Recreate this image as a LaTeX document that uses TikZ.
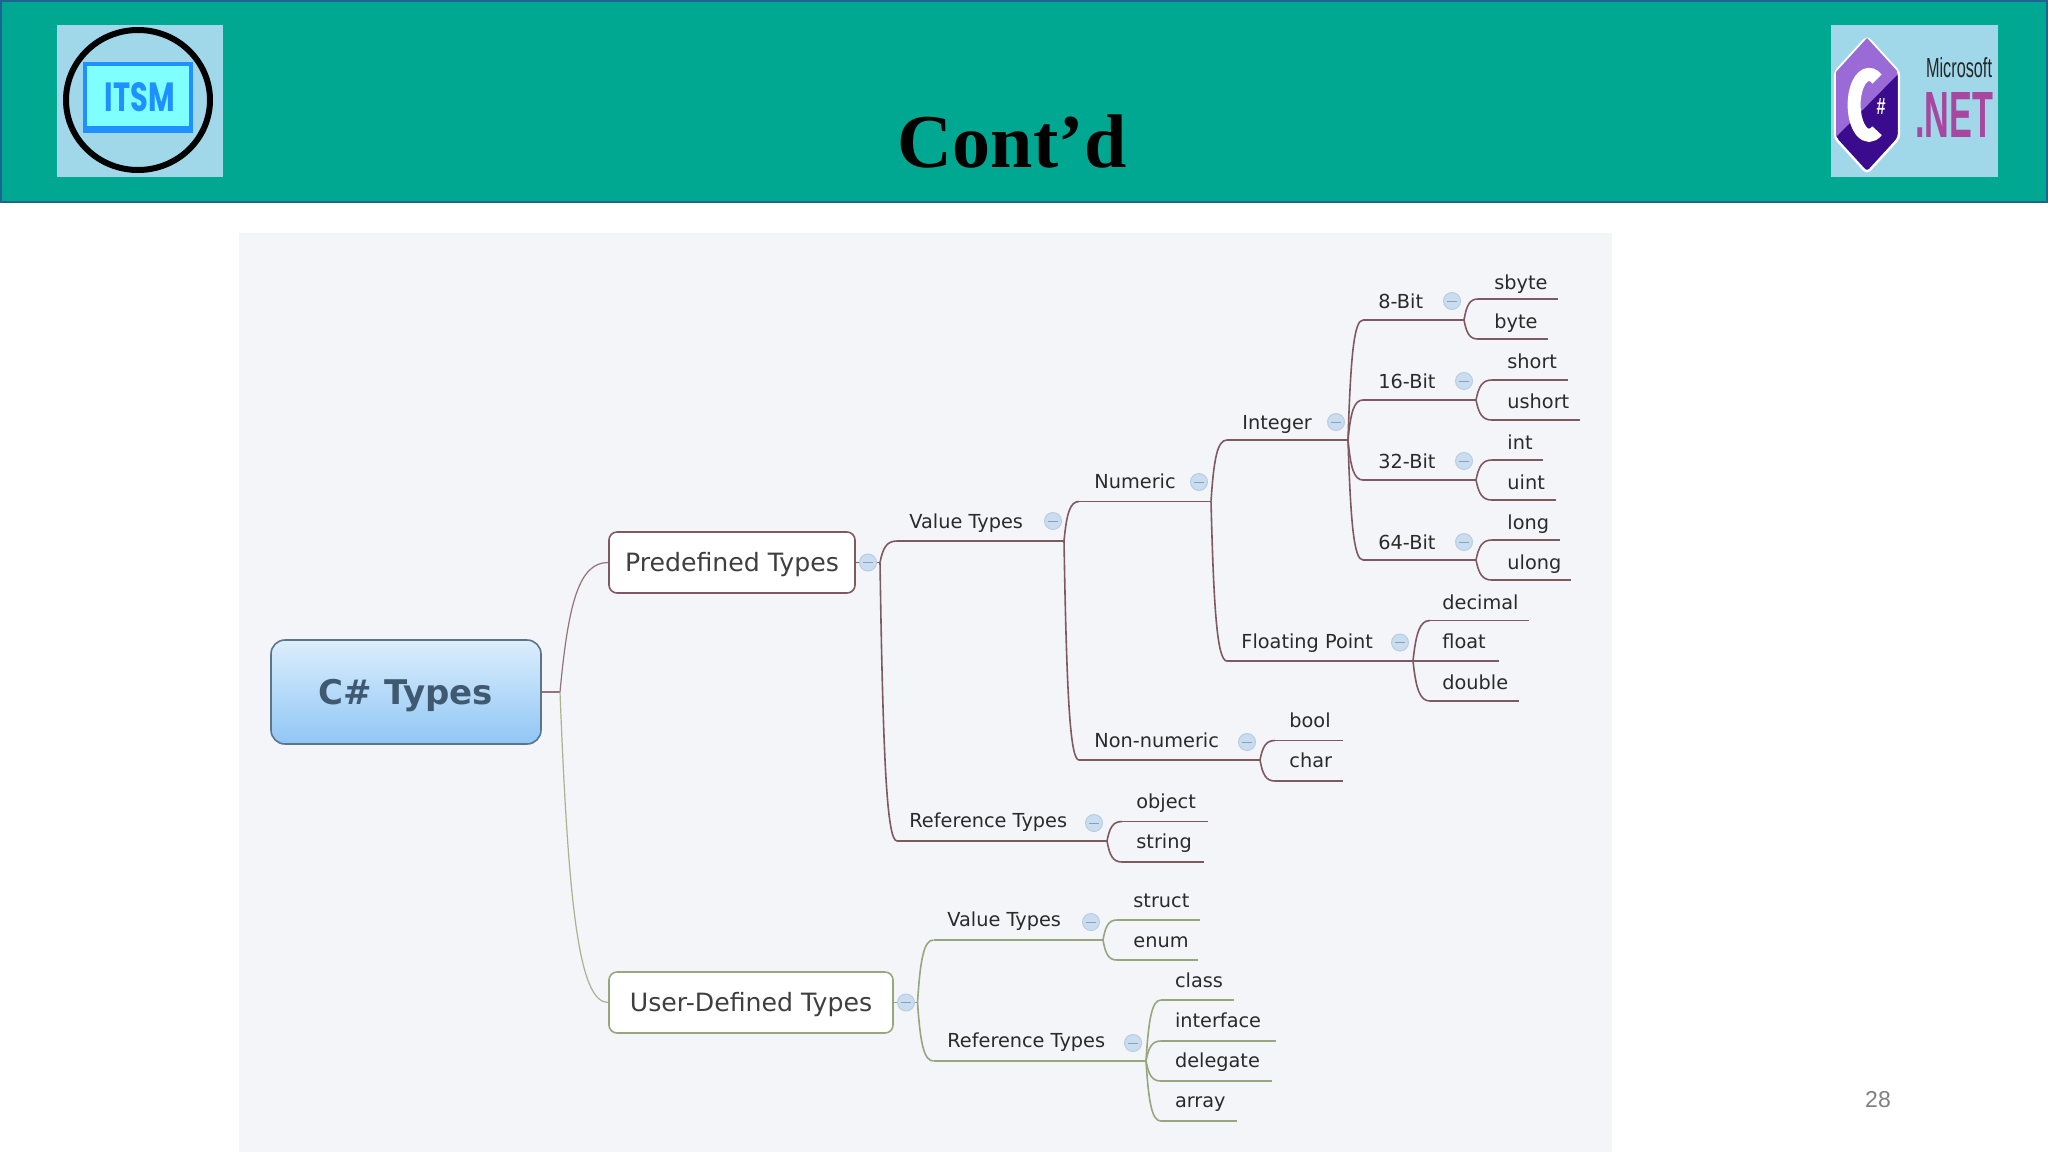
\documentclass[tikz,border=0pt]{standalone}
\usepackage{fontspec}
\usepackage{graphicx}
\usetikzlibrary{calc}
\setmainfont{Liberation Sans}
\newfontfamily\titlefont[LetterSpace=0.5]{Liberation Serif}
\newfontfamily\mapfont{DejaVu Sans}
\newfontfamily\heavyfont{Poppins}
\definecolor{teal0}{HTML}{00A892}
\definecolor{edgeblue}{HTML}{1F6391}
\definecolor{logosky}{HTML}{A0D8EA}
\definecolor{panel}{HTML}{F3F5F9}
\definecolor{upperc}{HTML}{7E5A60}
\definecolor{lowerc}{HTML}{98A67E}
\definecolor{knobfill}{HTML}{CADDF0}
\definecolor{knobedge}{HTML}{BACDE0}
\definecolor{knobdash}{HTML}{8AA0B8}
\definecolor{inktext}{HTML}{2A2A2A}
\definecolor{itsmblue}{HTML}{1E90FF}
\definecolor{itsmcyan}{HTML}{80FFFF}
\definecolor{hexlight}{HTML}{9A6AD6}
\definecolor{hexdark}{HTML}{3A0B8C}
\definecolor{netpurple}{HTML}{A8479F}
\definecolor{rootedge}{HTML}{5E7488}
\definecolor{roottext}{HTML}{3F5A70}
\definecolor{roottop}{HTML}{DCEEFC}
\definecolor{rootbot}{HTML}{90C6F5}
\tikzset{
  upline/.style={draw=upperc,line width=0.8pt},
  lowline/.style={draw=lowerc,line width=0.8pt},
  uptrunk/.style={draw=upperc!85!white,line width=0.6pt},
  lowtrunk/.style={draw=lowerc!85!white,line width=0.6pt},
  lbl/.style={anchor=west,inner sep=0pt,text height=8pt,text depth=1pt,font=\mapfont\fontsize{9.65}{10}\selectfont,text=inktext},
  knob/.style={circle,fill=knobfill,draw=knobedge,line width=0.5pt,minimum size=8.5pt,inner sep=0pt},
  knobbar/.style={draw=knobdash,line width=0.5pt},
  topicbox/.style={draw,rounded corners=4pt,fill=white,inner sep=0pt,line width=0.8pt,minimum height=30.5pt,
     text height=10.5pt,text depth=1.5pt,font=\mapfont\fontsize{12.6}{14}\selectfont,text=inktext!90}
}
\newcommand{\Tie}[3]{\draw[#1] (#2) .. controls ($(#2)!.7!($(#2|-#3)!.25!(#3)$)$) and ($(#3)!.6!(#2|-#3)$) .. (#3);}
% style, parent, id, startx, liney, endx, textx, texty, text
\newcommand{\Item}[9]{%
  \coordinate (#3-a) at (#4,#5);
  \coordinate (#3-b) at (#6,#5);
  \Tie{#1}{#2}{#3-a}
  \draw[#1] (#3-a) -- (#3-b);
  \node[lbl] (#3) at (#7,#8) {#9};
}
\newcommand{\Knob}[3]{%
  \node[knob] (#1) at (#2,#3) {};
  \draw[knobbar] ($(#1.center)+(-5,0)$) -- ($(#1.center)+(5,0)$);
}
\begin{document}
\begin{tikzpicture}[x=0.5pt,y=-0.5pt]
\useasboundingbox (0,0) rectangle (2048,1152);
\fill[white] (0,0) rectangle (2048,1152);
% header
\fill[teal0,draw=edgeblue,line width=1pt] (1,1) rectangle (2047,201.5);
\node[anchor=base,inner sep=0pt,font=\titlefont\bfseries\fontsize{38}{40}\selectfont,text=black] (title) at (1012,167) {Cont’d};
% left logo
\fill[logosky] (57,25) rectangle (223,177);
\draw[black,line width=3pt] (138,100) ellipse (72 and 70);
\fill[itsmblue] (83,62) rectangle (193,133);
\fill[itsmcyan] (87,66) rectangle (189,126);
\node[inner sep=0pt,text=itsmblue] (itsm) at (140,97.5) {\resizebox{35pt}{14.5pt}{\heavyfont\bfseries ITSM}};
% right logo
\fill[logosky] (1831,25) rectangle (1998,177);
\path[fill=hexdark,draw=white,line width=1.2pt,rounded corners=2pt] (1867,37) -- (1899,72) -- (1899,138) -- (1867,173) -- (1835,138) -- (1835,72) -- cycle;
\begin{scope}
\clip (1867,38) -- (1898,72) -- (1898,138) -- (1867,172) -- (1836,138) -- (1836,72) -- cycle;
\fill[hexlight] (1836,137) -- (1897,75) -- (1897,30) -- (1830,30) -- (1830,137) -- cycle;
\end{scope}
\draw[white,line width=6.5pt] (1877,79) arc[start angle=-58,end angle=-302,x radius=15,y radius=30.5];
\node[inner sep=0pt,text=white] (sharp) at (1881,106) {\resizebox{4.5pt}{8pt}{\bfseries\#}};
\node[inner sep=0pt,text=black!85] (msft) at (1959,68) {\resizebox{33pt}{10pt}{Microsoft}};
\node[inner sep=0pt,text=netpurple] (dotnet) at (1954,114.5) {\resizebox{39pt}{22.5pt}{\bfseries .NET}};
% panel
\fill[panel] (239,233) rectangle (1612,1152);
% page number
\node[inner sep=0pt,text=black!50,font=\fontsize{11.5}{14}\selectfont] (pageno) at (1878,1100) {28};

% root and topics
\node[draw=rootedge,rounded corners=7pt,top color=roottop,bottom color=rootbot,inner sep=0pt,line width=0.8pt,
  minimum width=135pt,minimum height=52pt,text height=14pt,text depth=2pt,font=\mapfont\bfseries\fontsize{17}{19}\selectfont,text=roottext] (root) at (406,692) {C\# Types};
\node[topicbox,draw=upperc,minimum width=123pt] (pre) at (732,562.5) {Predefined Types};
\node[topicbox,draw=lowerc,minimum width=142pt] (usr) at (751,1002.5) {User-Defined Types};
\coordinate (tr) at (560,692);
\draw[draw=upperc!85!white,line width=0.8pt] (root.east) -- (tr);
\Tie{uptrunk}{tr}{pre.west}
\Tie{lowtrunk}{tr}{usr.west}
\coordinate (preb) at (880,562.5);
\draw[upline] (pre.east) -- (preb);
\coordinate (usrb) at (917.5,1002.5);
\draw[lowline] (usr.east) -- (usrb);
\Knob{k0}{868}{562.5}
\Knob{k00}{906}{1002.5}

% predefined
\Item{upline}{preb}{vt}{897}{541}{1064}{909}{521}{Value Types}
\Knob{k1}{1053}{521}
\Item{upline}{preb}{rt}{897}{841}{1107}{909}{820}{Reference Types}
\Knob{k2}{1094}{823}
\Item{upline}{rt-b}{obj}{1122}{821.5}{1208}{1136}{801}{object}
\Item{upline}{rt-b}{str}{1122}{862}{1204}{1136}{841}{string}
\Item{upline}{vt-b}{num}{1079}{501.5}{1211}{1094}{481}{Numeric}
\Knob{k3}{1199}{482}
\Item{upline}{vt-b}{nn}{1079}{760}{1260}{1094}{740}{Non-numeric}
\Knob{k4}{1247}{742}
\Item{upline}{nn-b}{bool}{1275}{740.5}{1343}{1289}{720}{bool}
\Item{upline}{nn-b}{chr}{1275}{781}{1343}{1289}{760}{char}
\Item{upline}{num-b}{int}{1227}{440}{1348}{1242}{422}{Integer}
\Knob{k5}{1336}{422}
\Item{upline}{num-b}{fp}{1227}{661}{1413}{1241}{641}{Floating Point}
\Knob{k6}{1400}{642.5}
\Item{upline}{fp-b}{dec}{1430}{620.5}{1529}{1442}{602}{decimal}
\Item{upline}{fp-b}{flt}{1413}{661}{1499}{1442}{641}{float}
\Item{upline}{fp-b}{dbl}{1430}{701}{1519}{1442}{682}{double}
\Item{upline}{int-b}{b8}{1363}{320}{1464}{1378}{301}{8-Bit}
\Knob{k7}{1452}{301}
\Item{upline}{int-b}{b16}{1363}{400}{1476}{1378}{381}{16-Bit}
\Knob{k8}{1464}{381}
\Item{upline}{int-b}{b32}{1363}{480}{1476}{1378}{461}{32-Bit}
\Knob{k9}{1464}{461}
\Item{upline}{int-b}{b64}{1363}{560}{1476}{1378}{542}{64-Bit}
\Knob{k10}{1464}{542}
\Item{upline}{b8-b}{sb}{1478}{299}{1558}{1494}{282}{sbyte}
\Item{upline}{b8-b}{by}{1478}{339}{1548}{1494}{321}{byte}
\Item{upline}{b16-b}{sh}{1492}{380}{1568}{1507}{361}{short}
\Item{upline}{b16-b}{us}{1492}{420}{1580}{1507}{401}{ushort}
\Item{upline}{b32-b}{in}{1492}{460}{1543}{1507}{442}{int}
\Item{upline}{b32-b}{ui}{1492}{500}{1556}{1507}{482}{uint}
\Item{upline}{b64-b}{lo}{1492}{540}{1560}{1507}{522}{long}
\Item{upline}{b64-b}{ul}{1492}{580}{1571}{1507}{562}{ulong}

% user-defined
\Item{lowline}{usrb}{uvt}{933.5}{940}{1103}{947}{919}{Value Types}
\Knob{k11}{1091}{922}
\Item{lowline}{usrb}{urt}{933.5}{1061}{1146}{947}{1040}{Reference Types}
\Knob{k12}{1133}{1043}
\Item{lowline}{uvt-b}{st}{1117}{920}{1200}{1133}{900}{struct}
\Item{lowline}{uvt-b}{en}{1117}{960}{1197.5}{1133}{940}{enum}
\Item{lowline}{urt-b}{cl}{1161}{1000}{1234}{1174.6}{980}{class}
\Item{lowline}{urt-b}{if}{1161}{1041}{1275.6}{1174.6}{1020}{interface}
\Item{lowline}{urt-b}{dg}{1161}{1081}{1272}{1174.6}{1060}{delegate}
\Item{lowline}{urt-b}{ar}{1161}{1121}{1236.6}{1174.6}{1100}{array}
\end{tikzpicture}
\end{document}
